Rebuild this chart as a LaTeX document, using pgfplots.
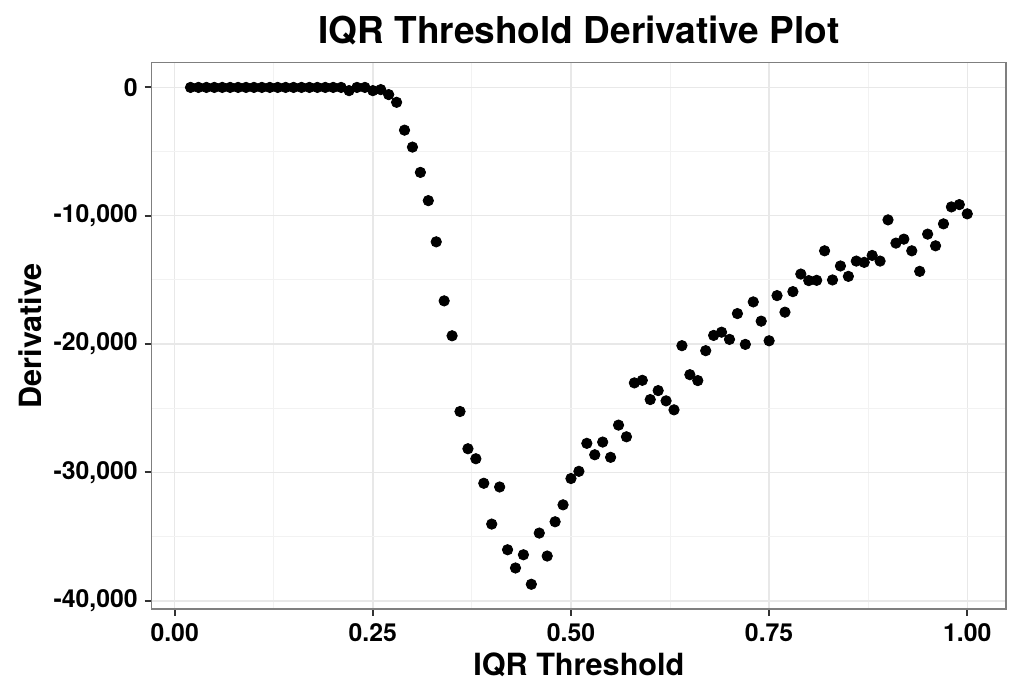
\documentclass[border=0pt]{standalone}
\usepackage{fontspec}
\setmainfont{TeX Gyre Heros}
\usepackage{pgfplots}
\pgfplotsset{compat=1.18}
\usepackage{pgfplotstable}
\definecolor{gridmaj}{HTML}{E8E8E8}
\definecolor{gridmin}{HTML}{F2F2F2}
\definecolor{panelframe}{HTML}{7F7F7F}
\definecolor{tickc}{HTML}{333333}

% IQR threshold vs derivative
\pgfplotstableread{
x y
0.02 0
0.03 0
0.04 0
0.05 0
0.06 0
0.07 0
0.08 0
0.09 0
0.10 0
0.11 0
0.12 0
0.13 0
0.14 0
0.15 0
0.16 0
0.17 0
0.18 0
0.19 0
0.20 0
0.21 0
0.22 -250
0.23 0
0.24 0
0.25 -250
0.26 -170
0.27 -560
0.28 -1160
0.29 -3330
0.30 -4650
0.31 -6620
0.32 -8820
0.33 -12030
0.34 -16630
0.35 -19350
0.36 -25250
0.37 -28150
0.38 -28930
0.39 -30840
0.40 -34020
0.41 -31130
0.42 -36020
0.43 -37440
0.44 -36410
0.45 -38710
0.46 -34720
0.47 -36510
0.48 -33840
0.49 -32520
0.50 -30470
0.51 -29910
0.52 -27730
0.53 -28620
0.54 -27630
0.55 -28820
0.56 -26310
0.57 -27220
0.58 -23020
0.59 -22820
0.60 -24320
0.61 -23620
0.62 -24420
0.63 -25120
0.64 -20120
0.65 -22380
0.66 -22840
0.67 -20510
0.68 -19320
0.69 -19070
0.70 -19630
0.71 -17620
0.72 -20020
0.73 -16710
0.74 -18210
0.75 -19740
0.76 -16220
0.77 -17510
0.78 -15910
0.79 -14540
0.80 -15050
0.81 -15030
0.82 -12730
0.83 -15000
0.84 -13910
0.85 -14720
0.86 -13530
0.87 -13630
0.88 -13090
0.89 -13530
0.90 -10320
0.91 -12130
0.92 -11820
0.93 -12730
0.94 -14330
0.95 -11430
0.96 -12340
0.97 -10630
0.98 -9310
0.99 -9130
1.00 -9850
}\derivtable

\begin{document}
\begin{tikzpicture}
\begin{axis}[
  scale only axis,
  width=427.2pt, height=273.2pt,
  xmin=-0.029, xmax=1.049,
  ymin=-40635, ymax=1935,
  xtick={0,0.25,0.5,0.75,1},
  ytick={-40000,-30000,-20000,-10000,0},
  minor xtick={0.125,0.375,0.625,0.875},
  minor ytick={-35000,-25000,-15000,-5000},
  grid=both,
  major grid style={gridmaj, line width=0.7pt},
  minor grid style={gridmin, line width=0.5pt},
  axis line style={panelframe, line width=0.8pt},
  tick align=outside,
  major tick length=3.5pt, minor tick length=0pt,
  tick style={tickc, line width=1pt},
  xtick pos=bottom, ytick pos=left,
  scaled y ticks=false,
  /pgf/number format/assume math mode=true,
  ticklabel style={font=\bfseries\fontsize{12.4}{14}\selectfont, text=black},
  yticklabel style={/pgf/number format/1000 sep={,}},
  xticklabel style={/pgf/number format/.cd, fixed, fixed zerofill, precision=2},
  title={IQR Threshold Derivative Plot},
  title style={font=\bfseries\fontsize{18.5}{22}\selectfont,
    at={(rel axis cs:0.5,1)}, anchor=base, yshift=3.7pt},
  xlabel={IQR Threshold},
  xlabel style={font=\bfseries\fontsize{15.3}{18}\selectfont,
    at={(rel axis cs:0.5,0)}, anchor=base, yshift=-33.5pt},
  ylabel={Derivative},
  ylabel style={font=\bfseries\fontsize{15.3}{18}\selectfont,
    at={(rel axis cs:0,0.5)}, anchor=base, yshift=55pt},
]
\addplot[only marks, mark=*, mark size=2.6pt, black] table[x=x, y=y] {\derivtable};
\coordinate (sw) at (rel axis cs:0,0);
\end{axis}
\pgfresetboundingbox
\path ([shift={(-75.85pt,-45pt)}]sw) rectangle ([shift={(436.15pt,304.5pt)}]sw);
\end{tikzpicture}
\end{document}
